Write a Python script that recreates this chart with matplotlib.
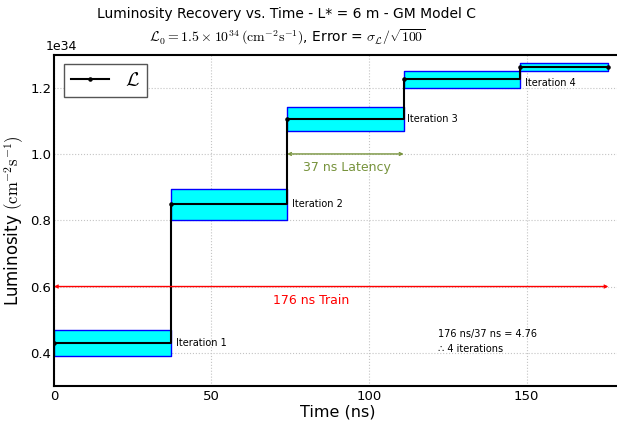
import matplotlib
matplotlib.use("Agg")
import matplotlib.pyplot as plt
import numpy as np

plt.rcParams['mathtext.fontset'] = 'cm'

# step start times (ns) and luminosity (1e34 units)
t_start = [0, 37, 74, 111, 148]
t_end = 176
lumi = [0.430, 0.848, 1.105, 1.225, 1.263]
lumi_err = [0.0385, 0.047, 0.037, 0.0245, 0.0115]
iter_labels = ["Iteration 1", "Iteration 2", "Iteration 3", "Iteration 4"]

scale = 1e34

fig = plt.figure(figsize=(6.17, 4.26), dpi=100)
ax = fig.add_axes([0.0875, 0.094, 0.919, 0.778])

# error boxes
for i in range(len(t_start)):
    x0 = t_start[i]
    x1 = t_start[i + 1] if i + 1 < len(t_start) else t_end
    ax.fill_between([x0, x1], (lumi[i] - lumi_err[i]) * scale, (lumi[i] + lumi_err[i]) * scale,
                    facecolor='#00ffff', edgecolor='blue', linewidth=1.0, zorder=2)

# luminosity step line
xs = t_start + [t_end]
ys = [v * scale for v in lumi] + [lumi[-1] * scale]
ax.plot(xs, ys, color='black', drawstyle='steps-post', marker='.', markersize=4.5,
        linewidth=1.5, label=r'$\mathcal{L}$', zorder=3)

# iteration labels
ax.text(38.7, lumi[0] * scale, iter_labels[0], fontsize=7, va='center', ha='left')
ax.text(75.4, lumi[1] * scale, iter_labels[1], fontsize=7, va='center', ha='left')
ax.text(112.2, lumi[2] * scale, iter_labels[2], fontsize=7, va='center', ha='left')
ax.text(149.6, 1.213 * scale, iter_labels[3], fontsize=7, va='center', ha='left')

# latency arrow
ax.annotate('', xy=(t_start[2], 1.0 * scale), xytext=(t_start[3], 1.0 * scale),
            arrowprops=dict(arrowstyle='<->', color='#77933C', lw=1, shrinkA=0, shrinkB=0,
                            mutation_scale=5))
ax.text(93, 0.96 * scale, "37 ns Latency", color='#77933C', fontsize=9, ha='center', va='center')

# train arrow
ax.annotate('', xy=(0, 0.6 * scale), xytext=(t_end, 0.6 * scale),
            arrowprops=dict(arrowstyle='<->', color='red', lw=1, shrinkA=0, shrinkB=0,
                            mutation_scale=5))
ax.text(81.7, 0.557 * scale, "176 ns Train", color='red', fontsize=9, ha='center', va='center')

ax.text(121.8, 0.456 * scale, "176 ns/37 ns = 4.76", fontsize=7, ha='left', va='center')
ax.text(121.8, 0.413 * scale, "\u2234 4 iterations", fontsize=7, ha='left', va='center')

ax.set_xlim(0, 180)
ax.set_ylim(0.3 * scale, 1.3 * scale)
ax.set_xticks([0, 50, 100, 150])
ax.set_yticks(np.array([0.4, 0.6, 0.8, 1.0, 1.2]) * scale)
ax.tick_params(labelsize=9.5, length=0)
ax.tick_params(axis='x', pad=3)
ax.tick_params(axis='y', pad=2)
ax.grid(True, color='#c4c4c4', linestyle=':', linewidth=0.8)
ax.set_axisbelow(True)
for s in ax.spines.values():
    s.set_linewidth(1.5)
ax.spines['right'].set_visible(False)

ax.set_xlabel("Time (ns)", fontsize=11.5, labelpad=1)
ax.set_ylabel(r"Luminosity $(\mathrm{cm}^{-2}\mathrm{s}^{-1})$", fontsize=12, labelpad=3)
off = ax.yaxis.get_offset_text()
off.set_fontsize(9)
off.set_family('DejaVu Sans')
off.set_x(-0.014)

leg = ax.legend(loc='upper left', fontsize=14, fancybox=False, edgecolor='#555555',
                handlelength=2.0, handletextpad=0.8, borderpad=0.35, framealpha=1)
leg.get_frame().set_linewidth(1.0)

fig.text(0.465, 0.968, "Luminosity Recovery vs. Time - L* = 6 m - GM Model C",
         fontsize=10, ha='center', va='center')
fig.text(0.465, 0.912,
         r"$\mathcal{L}_0 = 1.5 \times 10^{34}\,(\mathrm{cm}^{-2}\mathrm{s}^{-1})$, Error = $\sigma_{\mathcal{L}}/\sqrt{100}$",
         fontsize=10, ha='center', va='center')

fig.savefig("out.png", dpi=100)
